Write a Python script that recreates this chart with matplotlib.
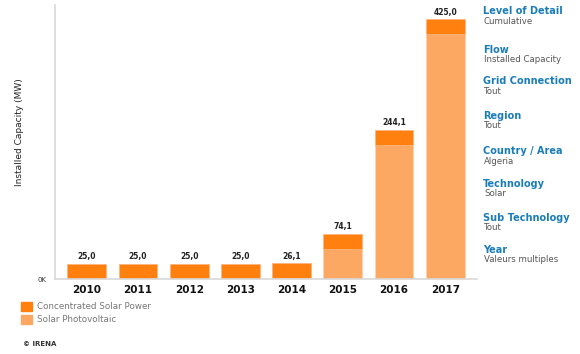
import matplotlib
matplotlib.use('Agg')
import matplotlib.pyplot as plt
import numpy as np

years = ['2010', '2011', '2012', '2013', '2014', '2015', '2016', '2017']
pv = [0.0, 0.0, 0.0, 0.0, 1.1, 49.1, 219.1, 400.0]
csp = [25.0, 25.0, 25.0, 25.0, 25.0, 25.0, 25.0, 25.0]
series_names = ['Concentrated Solar Power', 'Solar Photovoltaic']

filters = [('Level of Detail', 'Cumulative'),
           ('Flow', 'Installed Capacity'),
           ('Grid Connection', 'Tout'),
           ('Region', 'Tout'),
           ('Country / Area', 'Algeria'),
           ('Technology', 'Solar'),
           ('Sub Technology', 'Tout'),
           ('Year', 'Valeurs multiples')]
filter_y = [11, 50, 81, 116, 151, 184, 218, 250]

CSP_COL = '#ff7f0f'
PV_COL = '#fda862'
BLUE = '#1a7db8'
GREY = '#555555'

W, H = 580, 354
fig = plt.figure(figsize=(W / 100, H / 100), dpi=100)
fig.patch.set_facecolor('white')

# axes in pixel coords: left 55, right 477, top 5, baseline 279
ax = fig.add_axes([55 / W, 1 - 279 / H, (477 - 55) / W, (279 - 5) / H])
x = np.arange(len(years))
ax.bar(x, pv, width=0.76, color=PV_COL, edgecolor='#ffd2ad', linewidth=0.5)
ax.bar(x, csp, width=0.76, bottom=pv, color=CSP_COL, edgecolor='#ffb27a', linewidth=0.5)

totals = np.array(pv) + np.array(csp)
for xi, t in zip(x, totals):
    ax.text(xi, t + 4, f'{t:.1f}'.replace('.', ','), ha='center', va='bottom',
            fontsize=5.5, fontweight='bold', color='#222222')

ax.set_xlim(-0.62, len(years) - 0.38)
ax.set_ylim(0, 448)
ax.set_xticks(x)
ax.set_xticklabels(years, fontsize=7.5, fontweight='bold', color='#111111')
ax.set_yticks([0])
ax.set_yticklabels(['0K'], fontsize=5, color='#333333')
ax.tick_params(length=0, pad=4)
ax.tick_params(axis='y', pad=6)
for s in ['top', 'right']:
    ax.spines[s].set_visible(False)
ax.spines['left'].set_color('#d8d8d8')
ax.spines['bottom'].set_color('#d8d8d8')
ax.spines['left'].set_linewidth(1.2)
ax.spines['bottom'].set_linewidth(1.2)

fig.text(20 / W, 1 - 132 / H, 'Installed Capacity (MW)', rotation=90,
         ha='center', va='center', fontsize=6.5, color='#222222')

# legend
for i, (name, col) in enumerate(zip(series_names, [CSP_COL, PV_COL])):
    yt = 302 + i * 13
    fig.patches.append(plt.Rectangle((21 / W, 1 - (yt + 9) / H), 11 / W, 9 / H,
                                     transform=fig.transFigure, color=col))
    fig.text(37 / W, 1 - (yt + 4.5) / H, name, ha='left', va='center',
             fontsize=6.3, color='#777777')

fig.text(23 / W, 1 - 344 / H, '© IRENA', ha='left', va='center',
         fontsize=5, fontweight='bold', color='#333333')

# filter panel
for (head, val), yy in zip(filters, filter_y):
    fig.text(483 / W, 1 - yy / H, head, ha='left', va='center',
             fontsize=7, fontweight='bold', color=BLUE)
    fig.text(484 / W, 1 - (yy + 10) / H, val, ha='left', va='center',
             fontsize=6.2, color=GREY)

fig.savefig('out.png', dpi=100, facecolor='white')
